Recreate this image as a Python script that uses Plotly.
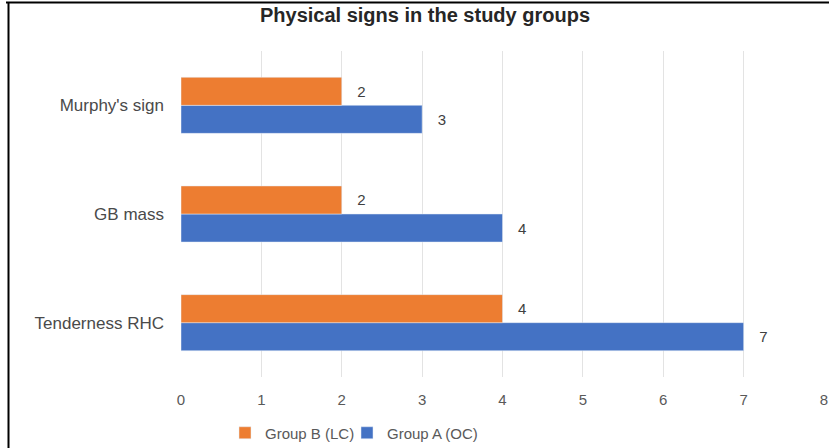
import plotly.graph_objects as go

# Data
categories = ["Tenderness RHC", "GB mass", "Murphy's sign"]
group_a_oc = [7, 4, 3]
group_b_lc = [4, 2, 2]
x_ticks = [0, 1, 2, 3, 4, 5, 6, 7, 8]

W, H = 829, 448
ML, MR, MT, MB = 181, 5, 51, 71
PW, PH = W - ML - MR, H - MT - MB

FONT = "Liberation Sans, Arial, sans-serif"
ORANGE = "#ED7D31"
BLUE = "#4472C4"


def px_x(px):
    return (px - ML) / PW


def px_y(py):
    return (H - MB - py) / PH


fig = go.Figure()
fig.add_trace(go.Bar(
    y=categories, x=group_a_oc, orientation="h", name="Group A (OC)",
    marker=dict(color=BLUE), text=group_a_oc, texttemplate="   %{x}",
    textposition="outside", cliponaxis=False, constraintext="none",
    textfont=dict(family=FONT, size=15, color="#404040"),
    legend="legend2",
))
fig.add_trace(go.Bar(
    y=categories, x=group_b_lc, orientation="h", name="Group B (LC)",
    marker=dict(color=ORANGE), text=group_b_lc, texttemplate="   %{x}",
    textposition="outside", cliponaxis=False, constraintext="none",
    textfont=dict(family=FONT, size=15, color="#404040"),
    legend="legend",
))

# Outer frame (top and left edges)
fig.add_shape(type="line", xref="paper", yref="paper",
              x0=px_x(6), x1=px_x(W + 5), y0=px_y(2.5), y1=px_y(2.5),
              line=dict(color="#000000", width=2))
fig.add_shape(type="line", xref="paper", yref="paper",
              x0=px_x(8.5), x1=px_x(8.5), y0=px_y(2), y1=px_y(H + 5),
              line=dict(color="#000000", width=2))

legend_style = dict(orientation="h", yanchor="middle", y=px_y(433),
                    xanchor="left", itemwidth=30,
                    font=dict(family=FONT, size=15, color="#595959"),
                    bgcolor="rgba(0,0,0,0)")

fig.update_layout(
    width=W, height=H,
    margin=dict(l=ML, r=MR, t=MT, b=MB, autoexpand=False),
    paper_bgcolor="white", plot_bgcolor="white",
    barmode="group", bargap=0.484, bargroupgap=0,
    title=dict(text="<b>Physical signs in the study groups</b>",
               x=425 / W, xanchor="center", y=1 - 15 / H, yanchor="middle",
               font=dict(family=FONT, size=20, color="#262626")),
    xaxis=dict(range=[0, 8], tickvals=x_ticks, showgrid=True,
               gridcolor="#E3E3E3", gridwidth=1, zeroline=False,
               showline=False, ticks="", ticklabelstandoff=12,
               tickfont=dict(family=FONT, size=15, color="#595959")),
    yaxis=dict(showgrid=False, zeroline=False, showline=False, ticks="",
               ticklabelstandoff=16,
               tickfont=dict(family=FONT, size=17, color="#4a4a4a")),
    showlegend=True,
    legend=dict(legend_style, x=px_x(225)),
    legend2=dict(legend_style, x=px_x(347)),
)

fig.write_html("out.html")
